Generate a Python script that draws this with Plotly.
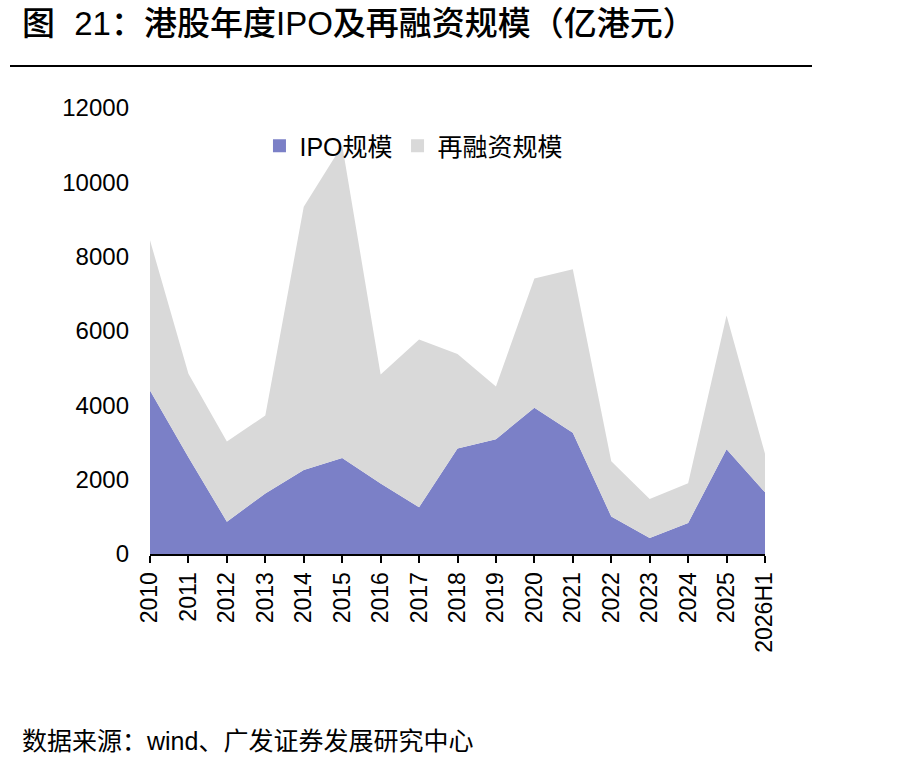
import plotly.graph_objects as go

years = ["2010", "2011", "2012", "2013", "2014", "2015", "2016", "2017", "2018",
         "2019", "2020", "2021", "2022", "2023", "2024", "2025", "2026H1"]
ipo = [4400, 2600, 870, 1630, 2260, 2580, 1900, 1260, 2840,
       3090, 3935, 3260, 1010, 430, 835, 2820, 1660]
refinance = [4040, 2250, 2155, 2095, 7080, 8420, 2930, 4510, 2540,
             1420, 3475, 4400, 1485, 1050, 1070, 3595, 1035]
y_ticks = [0, 2000, 4000, 6000, 8000, 10000, 12000]

title_text = "图\u2002\u200a21：港股年度IPO及再融资规模（亿港元）"
source_text = "数据来源：wind、广发证券发展研究中心"

CJK = "Liberation Sans, Arial, Noto Sans CJK SC"
IPO_COLOR = "#7B80C7"
REF_COLOR = "#D9D9D9"

fig = go.Figure()
fig.add_trace(go.Scatter(
    x=years, y=ipo, name="IPO规模", mode="none", showlegend=False,
    stackgroup="one", fillcolor=IPO_COLOR, line=dict(width=0),
))
fig.add_trace(go.Scatter(
    x=years, y=refinance, name="再融资规模", mode="none", showlegend=False,
    stackgroup="one", fillcolor=REF_COLOR, line=dict(width=0),
))
# legend entries (square swatches)
fig.add_trace(go.Scatter(
    x=[None], y=[None], name="IPO规模", mode="markers",
    marker=dict(symbol="square", size=13, color=IPO_COLOR),
))
fig.add_trace(go.Scatter(
    x=[None], y=[None], name="再融资规模", mode="markers",
    marker=dict(symbol="square", size=13, color=REF_COLOR),
))

fig.update_layout(
    width=916, height=768,
    margin=dict(l=150, r=151, t=108, b=214),
    paper_bgcolor="white", plot_bgcolor="white",
    font=dict(family=CJK, color="black", size=23),
    showlegend=True,
    legend=dict(
        orientation="h", x=0.178, y=1 - (146 - 108) / 446,
        xanchor="left", yanchor="middle", traceorder="normal",
        bgcolor="rgba(0,0,0,0)", font=dict(size=25, family=CJK),
        itemwidth=30,
    ),
    xaxis=dict(
        type="category", range=[0, 16],
        showline=True, linecolor="black", linewidth=2,
        ticks="outside", ticklen=7, tickcolor="black", tickwidth=2,
        tickangle=-90, showgrid=False, zeroline=False,
        tickfont=dict(size=23, family=CJK),
    ),
    yaxis=dict(
        range=[0, 12000], tickmode="array", tickvals=y_ticks,
        ticktext=[str(v) for v in y_ticks],
        showline=False, showgrid=False, zeroline=False, ticks="",
        ticklabelstandoff=20,
        tickfont=dict(size=24, family=CJK),
    ),
)

fig.add_annotation(
    text=title_text, xref="paper", yref="paper",
    x=(20 - 150) / 615, y=1 + (108 - 23) / 446, xanchor="left", yanchor="middle",
    showarrow=False, font=dict(size=33, family=CJK, color="black", weight=500),
)
fig.add_annotation(
    text=source_text, xref="paper", yref="paper",
    x=(20 - 150) / 615, y=-(741 - 554) / 446, xanchor="left", yanchor="middle",
    showarrow=False, font=dict(size=25, family=CJK, color="black"),
)
fig.add_shape(
    type="line", xref="paper", yref="paper",
    x0=(10 - 150) / 615, x1=(812 - 150) / 615,
    y0=1 + (108 - 66) / 446, y1=1 + (108 - 66) / 446,
    line=dict(color="black", width=2),
)

fig.write_html("out.html")
